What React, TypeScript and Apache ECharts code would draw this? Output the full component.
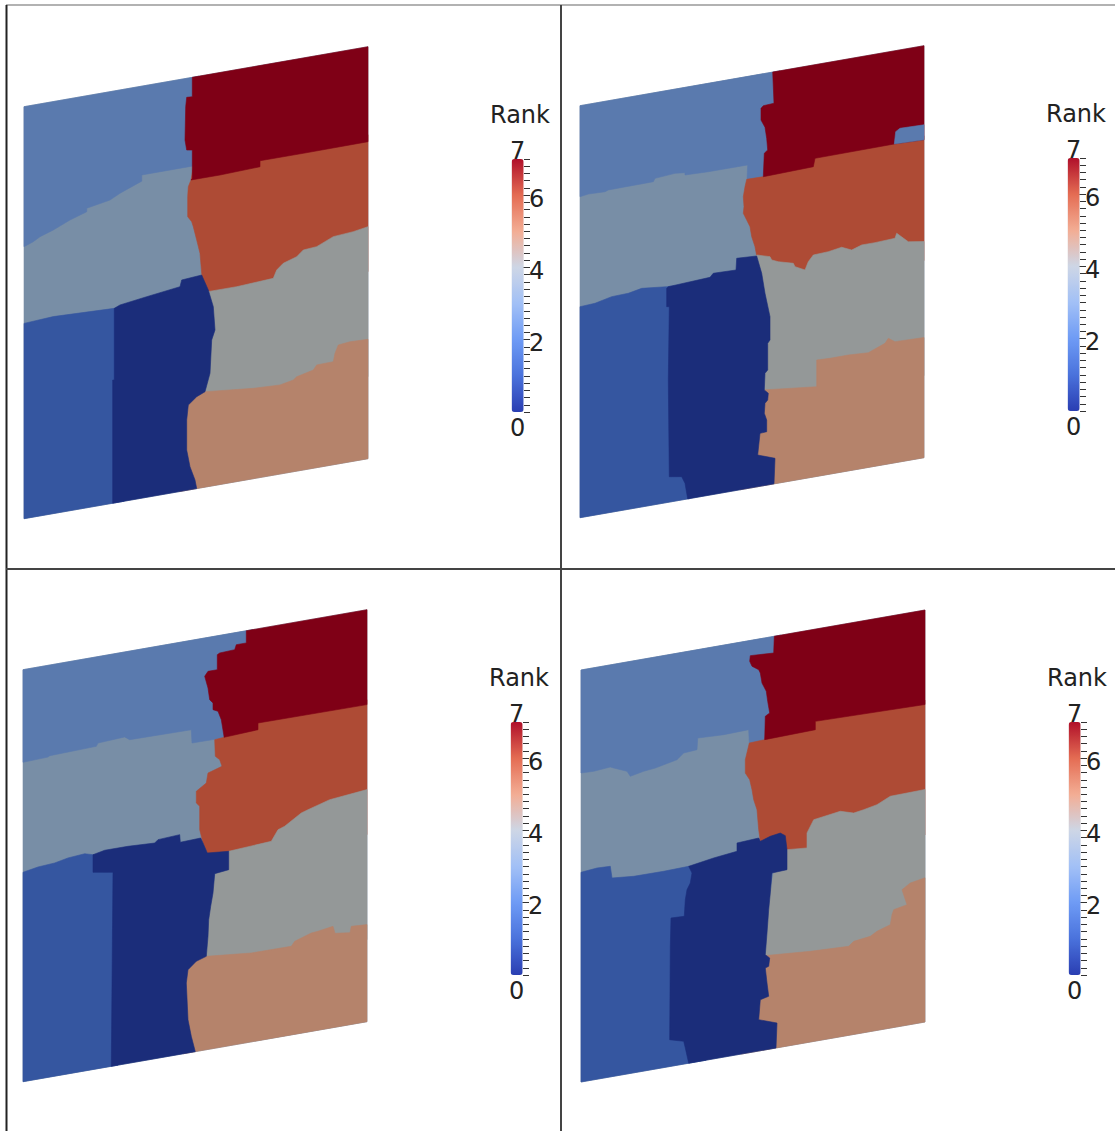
import React, { useEffect, useRef } from "react";
import * as echarts from "echarts";

// Plate geometry (plate units): width x height, and the rise of the right edge in the view
const PLATE_W = 344;
const PLATE_H = 412;
const PLATE_RISE = 60;

const RANK_MIN = 0;
const RANK_MAX = 7;
const RANK_TICK_LABELS = [2, 4, 6];
const RANK_END_TEXT = ["7", "0"];
const LEGEND_TITLE = "Rank";

// rendered (shaded) colour of each rank's partition
const RANK_COLORS = ["#1b2d7a", "#3556a0", "#5a7aae", "#788ea6", "#949898", "#b5836b", "#ae4b35", "#7f0016"];
// colour bar stops for ranks 0..7
const BAR_COLORS = ["#2a3eb2", "#4a72dc", "#6e9bf5", "#a2c0f6", "#cdd6e6", "#f3ad94", "#e46c53", "#b0102a"];

const PLATE = [[0, 0], [344, 0], [344, 412], [0, 412]];

// ---- Panel 1 partitions (u, depth below top edge) ----
const P1_R2 = [[0, 0], [175, 0], [175, 88.7], [117.7, 88.8], [117.7, 95], [96, 103.3], [86, 108.3], [62.7, 112.5], [62.7, 116], [46, 121.3], [29.3, 128.4], [16, 132.8], [9.3, 136.6], [0, 140]];
const P1_R1 = [[0, 216.7], [29.3, 215], [90.3, 217.4], [100, 219], [100, 412], [0, 412]];
const P1_R6 = [[167, 102.4], [169, 92], [344, 88], [344, 225], [180, 225], [177.7, 197.6], [176, 177.3], [172.7, 163.4], [169.3, 149.5], [167.7, 144.2], [163.7, 138.5], [163.7, 118.5], [164.3, 108.7]];
const P1_R7 = [[168.3, 0], [344, 0], [344, 95], [279.3, 95.3], [236, 95.2], [236, 101.2], [196, 102.5], [167, 102.4], [168.3, 101], [168.3, 72.7], [162.7, 71.7], [161, 61.4], [161.7, 28.2], [162.7, 19], [168.3, 19.4]];
const P1_R4 = [[178, 222], [183.7, 217], [212.7, 217.1], [249.3, 215.1], [252.7, 207.4], [259.3, 201.8], [272.7, 197.6], [279.3, 192], [292.7, 191], [309.3, 183.9], [329.3, 182.4], [344, 180], [344, 330], [172, 330]];
const P1_R5 = [[155, 316.6], [182, 316.7], [229.3, 321.6], [256, 322.9], [269.3, 320.3], [272.7, 317.6], [289.3, 313.8], [292.7, 309.3], [309.3, 308.9], [311, 300.8], [314.3, 293.1], [326, 291.9], [344, 292.6], [344, 412], [155, 412]];
const P1_R0 = [[90.3, 217.4], [96, 215], [122.7, 211.4], [156, 207.2], [157.7, 200.8], [177.7, 199.3], [184.3, 215.4], [189.3, 233], [191, 256.6], [187.7, 266], [186, 299], [181, 316.6], [172.7, 320.1], [164.3, 327], [162.7, 341.7], [162.7, 371.7], [166, 389], [171, 403.1], [172.7, 412], [88.7, 412], [88.7, 288.8], [90.3, 289]];

// ---- Panel 2 ----
const P2_R2 = [[0, 0], [200, 0], [200, 103], [167, 103], [167.7, 88.5], [128.3, 88.4], [105, 87.6], [105, 85.3], [95, 84.2], [75, 85.7], [73.3, 88.8], [28.3, 89.2], [25, 90.4], [8.3, 89.8], [0, 91]];
const P2_R1 = [[0, 201], [15, 200.2], [31.7, 196.5], [48.3, 196], [61.7, 193.4], [86.7, 196.1], [110, 198], [110, 412], [0, 412]];
const P2_R6 = [[166.7, 102.7], [185, 103], [185, 90], [344, 90], [344, 215], [175, 215], [176.7, 181.1], [175, 171.5], [171.7, 160.9], [170, 150.6], [166.7, 143.4], [163.3, 136.1], [164, 129.6], [163.3, 119.5], [165, 109.8]];
const P2_R7 = [[192.7, 0], [344, 0], [344, 94.1], [314.3, 93.1], [235, 93.6], [233.3, 101.7], [183.3, 103], [184.3, 79.7], [187.7, 77], [186.7, 65.2], [185, 53.9], [181, 45.9], [181, 34.2], [183.3, 32], [194, 31.4]];
const P2_R2B = [[314.3, 93.1], [315.7, 81], [320, 78.4], [344, 79.1], [344, 94.1]];
const P2_R4 = [[172, 195], [176.7, 180.1], [190, 184.1], [191.7, 187.7], [198.3, 190.6], [213.3, 194.8], [215, 198.5], [225, 203.5], [228.3, 195.8], [233.3, 190], [248.3, 189.3], [261.7, 187.2], [271.7, 191.7], [281.7, 188.4], [295, 188.4], [315, 187.5], [316.7, 182.8], [328.3, 193.3], [344, 195.8], [344, 330], [172, 330]];
const P2_R5 = [[160, 316.2], [183.3, 316.2], [236.7, 322.3], [236.7, 295.6], [250, 296.2], [268.3, 296.1], [288.3, 297.3], [305, 290.8], [308.3, 286.4], [315, 290.9], [344, 291.8], [344, 412], [160, 412]];
const P2_R0 = [[86.7, 197.7], [88.3, 196.4], [130, 194.3], [133.3, 190.8], [156, 191.5], [156.7, 179.9], [176.7, 181.1], [181.7, 199.3], [185, 219.9], [190, 244.1], [190, 267.4], [187.7, 270.3], [187.7, 297], [185, 299.9], [184.3, 316.4], [188.3, 320.4], [187.7, 327], [185, 329.9], [184.3, 339.7], [186.7, 346.9], [186.7, 358.6], [180, 359], [177.7, 380.3], [195, 386.6], [194, 412], [107.7, 412], [105, 395.9], [101.7, 388.7], [89.3, 386.6], [88.3, 289.7], [89.3, 216.6], [86.7, 216.1]];

// ---- Panel 3 ----
const P3_R2 = [[0, 0], [230, 0], [230, 103.4], [169, 102.8], [168.3, 89.4], [106.7, 88.6], [101.7, 85], [75, 86.4], [73.3, 89.4], [26.7, 90.7], [25, 91.7], [0, 92.6]];
const P3_R1 = [[0, 202.6], [15, 199.9], [31.7, 198.8], [45, 196.1], [61.7, 194.8], [70, 197.2], [95, 205], [95, 412], [0, 412]];
const P3_R6 = [[191.7, 103.4], [201, 102.7], [205, 90], [344, 90], [344, 225], [190, 225], [184.3, 215.4], [180, 204.7], [176.7, 190.8], [176.7, 167.4], [173.3, 163.5], [173.3, 151.8], [183.3, 145.3], [185, 135.6], [199, 131.3], [196.7, 124.3], [192.3, 120.1]];
const P3_R7 = [[223.3, 0], [344, 0], [344, 94.9], [235, 94.3], [235, 101], [201, 102.7], [201, 101.7], [198.3, 84.6], [195, 75.6], [190, 73.1], [190, 66.4], [186.7, 62.6], [185, 50.6], [181.7, 38.3], [185, 33.9], [194.3, 33.9], [194.3, 18.9], [196.7, 17.6], [211.7, 16.9], [213.3, 12.2], [223.3, 12.2]];
const P3_R4 = [[195, 225], [205.7, 217.5], [248.3, 214.9], [255, 204.5], [261.7, 202.2], [278.3, 191.8], [285, 189.7], [306.7, 183.5], [344, 179.9], [344, 330], [175, 330]];
const P3_R5 = [[160, 318.6], [183.3, 318.6], [228.3, 323.1], [268.3, 323.4], [271.7, 319], [288.3, 313.6], [295, 313], [310, 310.7], [312, 318], [327, 320], [328.3, 313.9], [344, 314.9], [344, 412], [160, 412]];
const P3_R0 = [[70, 197.2], [81.7, 194.8], [105, 194.9], [131.7, 196.3], [135, 193.5], [156.7, 192.3], [157.3, 200], [177.7, 199.3], [180, 204.7], [184.3, 215.4], [205.7, 217.5], [205.7, 235.9], [191.7, 237.4], [190, 256.4], [187.7, 269.3], [185.7, 282.4], [185, 298.9], [183.3, 318.6], [173.3, 321.8], [165, 328.8], [163.3, 341.8], [165, 378.8], [168.3, 396], [172.3, 412], [88.3, 412], [90, 218.3], [70, 214.8]];

// ---- Panel 4 ----
const P4_R2 = [[0, 0], [200, 0], [200, 102.4], [168.3, 102.4], [167.7, 88.9], [142.7, 89.6], [116.7, 88.4], [116, 99.9], [102.7, 100.9], [96, 106.4], [74.3, 111], [62.7, 112.2], [49.3, 114.9], [46, 109.3], [32.7, 103.7], [29.3, 102.1], [12.7, 103.5], [0, 103]];
const P4_R1 = [[0, 202.3], [16, 200.8], [29.3, 201.4], [31, 213.4], [52.7, 215.5], [82.7, 215.7], [107.7, 215.1], [125, 222], [125, 412], [0, 412]];
const P4_R6 = [[168.3, 102.4], [183.7, 101.7], [186, 90], [344, 90], [344, 225], [185, 225], [179.3, 202.6], [177.7, 190.7], [176, 170.4], [172.7, 159.8], [171, 149.5], [168.7, 139.1], [164.3, 131.7], [164.3, 118.4]];
const P4_R7 = [[193.3, 0], [344, 0], [344, 94.5], [234.3, 92.2], [234.3, 100.6], [183.7, 101.7], [184.3, 78.4], [188.7, 75.9], [186.7, 63.9], [185.3, 53.6], [182.7, 48.2], [181, 44.6], [179.3, 34.3], [177.7, 30.7], [171, 26.1], [168.7, 20.7], [169.3, 15.2], [192.7, 16.6]];
const P4_R4 = [[195, 225], [206, 215.6], [226, 217.4], [226, 202.4], [232.7, 190.3], [259.3, 186.5], [272.7, 190.6], [282.7, 189], [296, 186.3], [309.3, 180.2], [344, 179.5], [344, 330], [175, 330]];
const P4_R5 = [[160, 317.6], [182.7, 317.6], [229.3, 321.3], [267.7, 323], [272.7, 318.9], [289.3, 316.8], [296, 312.9], [309.3, 308.6], [311, 298.9], [312.7, 294.2], [326, 291.6], [321, 275.7], [329.3, 270.4], [344, 267.8], [344, 412], [160, 412]];
const P4_R0 = [[107.7, 215.1], [132.7, 211.1], [156, 208.5], [156, 200.2], [177.7, 199], [179.3, 202.6], [189.3, 199.3], [199.3, 197.8], [204.3, 201.3], [206, 215.6], [206, 235.6], [191, 236.3], [189.3, 256], [187.7, 272.4], [186, 295.4], [184.3, 316.8], [188.7, 320.9], [187.7, 329], [184.3, 330.1], [186, 345.4], [187.7, 359], [179.3, 361], [177.7, 380.7], [196, 387.2], [195, 412], [107.7, 412], [104.3, 396.2], [102.7, 389.2], [88.7, 385.2], [89.3, 291.9], [90, 263.7], [103.3, 264.3], [104.3, 247.9], [106, 238.2], [109.3, 232.1], [111, 222.4]];

// layers in drawing order: [rank, outline]
const P1_LAYERS = [[3, PLATE], [2, P1_R2], [1, P1_R1], [6, P1_R6], [7, P1_R7], [4, P1_R4], [5, P1_R5], [0, P1_R0]];
const P2_LAYERS = [[3, PLATE], [2, P2_R2], [1, P2_R1], [6, P2_R6], [7, P2_R7], [2, P2_R2B], [4, P2_R4], [5, P2_R5], [0, P2_R0]];
const P3_LAYERS = [[3, PLATE], [2, P3_R2], [1, P3_R1], [6, P3_R6], [7, P3_R7], [4, P3_R4], [5, P3_R5], [0, P3_R0]];
const P4_LAYERS = [[3, PLATE], [2, P4_R2], [1, P4_R1], [6, P4_R6], [7, P4_R7], [4, P4_R4], [5, P4_R5], [0, P4_R0]];

const FONT = "'DejaVu Sans', sans-serif";
const FONT_WEIGHT = "normal";

const PANELS = [
  { layers: P1_LAYERS, px: 24, py: 46.7, bx: 512, by: 159 },
  { layers: P2_LAYERS, px: 580, py: 45.7, bx: 1068, by: 158 },
  { layers: P3_LAYERS, px: 23, py: 609.7, bx: 511, by: 722 },
  { layers: P4_LAYERS, px: 581, py: 610, bx: 1069, by: 722 },
];
const BAR_W = 12;
const BAR_H = 253;

function buildOption() {
  const grid: any[] = [];
  const xAxis: any[] = [];
  const yAxis: any[] = [];
  const series: any[] = [];
  const visualMap: any[] = [];
  const title: any[] = [];

  PANELS.forEach((p, i) => {
    // plate grid
    const g = grid.length;
    grid.push({ left: p.px, top: p.py, width: PLATE_W, height: PLATE_H + PLATE_RISE });
    xAxis.push({ type: "value", gridIndex: g, min: 0, max: PLATE_W, show: false });
    yAxis.push({ type: "value", gridIndex: g, min: -PLATE_RISE, max: PLATE_H, inverse: true, show: false });
    const layers = p.layers as any[];
    series.push({
      type: "custom",
      xAxisIndex: xAxis.length - 1,
      yAxisIndex: yAxis.length - 1,
      data: layers.map((l, k) => [k, l[0]]),
      silent: true,
      renderItem: (params: any, api: any) => {
        const layer = layers[params.dataIndex];
        const pts = (layer[1] as number[][]).map(([u, w]) => api.coord([u, w - (u * PLATE_RISE) / PLATE_W]));
        const c = RANK_COLORS[layer[0]];
        return { type: "polygon", shape: { points: pts }, style: { fill: c, stroke: c, lineWidth: 0.6 } };
      },
    });

    // colour bar ticks
    const cg = grid.length;
    grid.push({ left: p.bx, top: p.by, width: BAR_W, height: BAR_H });
    xAxis.push({ type: "value", gridIndex: cg, show: false, min: 0, max: 1 });
    // minor ticks: left-side axis shifted onto the bar's right edge, ticks pointing right
    yAxis.push({
      type: "value", gridIndex: cg, position: "left", offset: -BAR_W, min: RANK_MIN, max: RANK_MAX, interval: 0.2,
      axisLine: { show: false }, splitLine: { show: false }, axisLabel: { show: false },
      axisTick: { show: true, inside: true, length: 6, lineStyle: { color: "#333", width: 1 } },
    });
    yAxis.push({
      type: "value", gridIndex: cg, position: "right", offset: -3, min: RANK_MIN, max: RANK_MAX, interval: 1,
      axisLine: { show: false }, splitLine: { show: false },
      axisTick: { show: true, length: 9, customValues: RANK_TICK_LABELS, lineStyle: { color: "#333", width: 1 } },
      axisLabel: {
        show: true, customValues: RANK_TICK_LABELS, margin: 8, fontSize: 24, color: "#222",
        fontFamily: FONT, fontWeight: FONT_WEIGHT, verticalAlign: "top", lineHeight: 7,
      },
    });

    visualMap.push({
      type: "continuous", min: RANK_MIN, max: RANK_MAX, orient: "vertical", calculable: false, hoverLink: false,
      itemWidth: BAR_W, itemHeight: BAR_H, text: RANK_END_TEXT, textGap: -4, padding: 0,
      left: p.bx - 2, top: p.by - 20,
      seriesIndex: i, dimension: 1,
      inRange: { color: BAR_COLORS },
      textStyle: { fontSize: 24, color: "#222", fontFamily: FONT, fontWeight: FONT_WEIGHT, padding: [8, 0, 0, 0] },
    });

    title.push({
      text: LEGEND_TITLE, left: p.bx - 22, top: p.by - 56, padding: 0,
      textStyle: { fontSize: 24, fontWeight: FONT_WEIGHT, color: "#222", fontFamily: FONT },
    });
  });

  return {
    animation: false,
    backgroundColor: "#ffffff",
    title,
    grid,
    xAxis,
    yAxis,
    visualMap,
    series,
    graphic: [
      { type: "line", shape: { x1: 6, y1: 5, x2: 1115, y2: 5 }, style: { stroke: "#999", lineWidth: 1.5 } },
      { type: "line", shape: { x1: 6.5, y1: 5, x2: 6.5, y2: 1131 }, style: { stroke: "#222", lineWidth: 2 } },
      { type: "line", shape: { x1: 561, y1: 5, x2: 561, y2: 1131 }, style: { stroke: "#444", lineWidth: 2 } },
      { type: "line", shape: { x1: 6, y1: 569, x2: 1115, y2: 569 }, style: { stroke: "#444", lineWidth: 2 } },
    ],
  };
}

export default function App() {
  const ref = useRef<HTMLDivElement>(null);
  useEffect(() => {
    if (!ref.current) return;
    const chart = echarts.init(ref.current, undefined, { renderer: "svg" });
    chart.setOption(buildOption() as any);
    return () => chart.dispose();
  }, []);
  return <div ref={ref} style={{ position: "fixed", left: 0, top: 0, width: 1115, height: 1131 }} />;
}
